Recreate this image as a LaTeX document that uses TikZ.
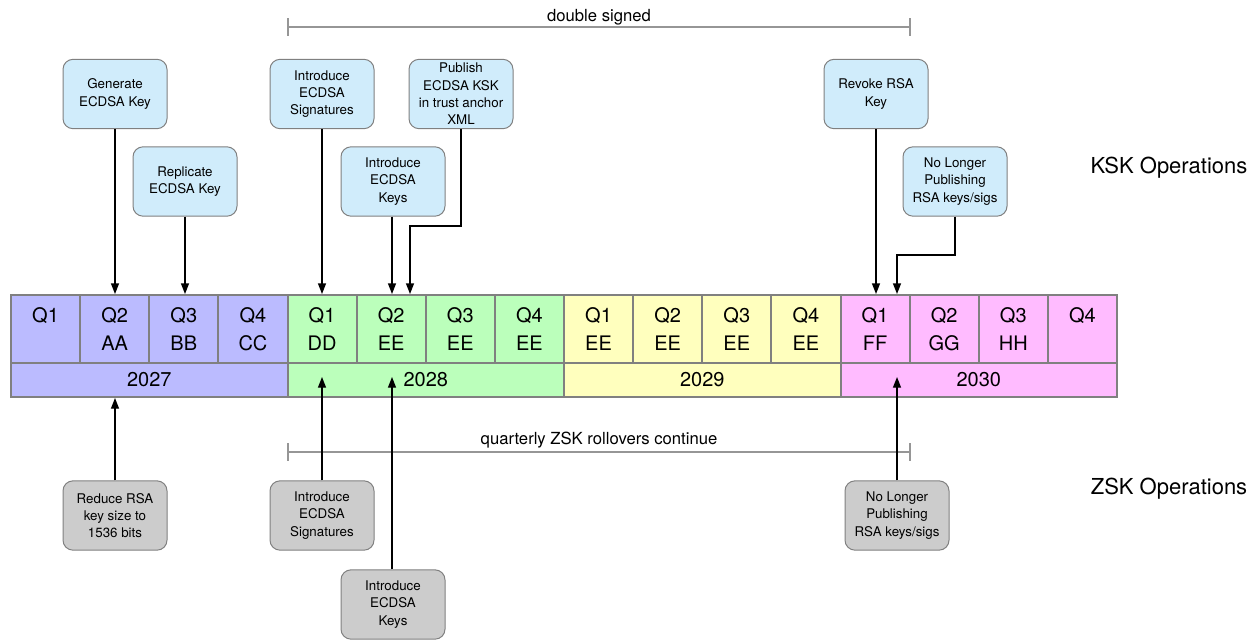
\documentclass[tikz,border=0pt]{standalone}
\usepackage{fontspec}
\setmainfont{TeX Gyre Heros}
\usetikzlibrary{arrows.meta}
\definecolor{c27}{RGB}{187,187,255}
\definecolor{c28}{RGB}{187,255,187}
\definecolor{c29}{RGB}{255,255,190}
\definecolor{c30}{RGB}{255,187,255}
\definecolor{kskfill}{RGB}{208,236,251}
\definecolor{zskfill}{RGB}{204,204,204}
\definecolor{cellline}{RGB}{128,128,128}
\definecolor{boxline}{RGB}{128,128,128}
\definecolor{spanline}{RGB}{150,150,150}
\begin{document}
\begin{tikzpicture}[x=0.75pt,y=-0.75pt,
 qcell/.style={draw=cellline,line width=1.5pt,minimum width=51.84pt,minimum height=51pt,inner sep=0},
 ycell/.style={draw=cellline,line width=1.5pt,minimum width=207.375pt,minimum height=25.5pt,inner sep=0,font=\fontsize{15}{18}\selectfont},
 qtext/.style={anchor=north,inner sep=0,align=center,font=\fontsize{15}{20.5}\selectfont},
 opbox/.style={draw=boxline,line width=0.75pt,rounded corners=7.5pt,minimum width=78pt,minimum height=52pt,inner sep=1pt,align=center,font=\fontsize{10}{13}\selectfont},
 kskbox/.style={opbox,fill=kskfill},
 zskbox/.style={opbox,fill=zskfill},
 arr/.style={draw=black,line width=1pt,-{Triangle[length=8pt,width=6pt]}},
 span/.style={draw=spanline,line width=1.5pt},
 spantext/.style={font=\fontsize{12.5}{15}\selectfont},
 optext/.style={font=\fontsize{16.5}{20}\selectfont}]
\useasboundingbox (0,0) rectangle (1260,639);

% quarter cells
\foreach \i/\col/\txt in {0/c27/{Q1},1/c27/{Q2\\AA},2/c27/{Q3\\BB},3/c27/{Q4\\CC},
  4/c28/{Q1\\DD},5/c28/{Q2\\EE},6/c28/{Q3\\EE},7/c28/{Q4\\EE},
  8/c29/{Q1\\EE},9/c29/{Q2\\EE},10/c29/{Q3\\EE},11/c29/{Q4\\EE},
  12/c30/{Q1\\FF},13/c30/{Q2\\GG},14/c30/{Q3\\HH},15/c30/{Q4}}{
  \node[qcell,fill=\col] (q\i) at ({11+69.125*(\i+0.5)},329) {};
  \node[qtext] (ql\i) at ({11+69.125*(\i+0.5)},307.5) {\txt};
}
% year cells
\node[ycell,fill=c27] (y27) at (149.25,380) {2027};
\node[ycell,fill=c28] (y28) at (425.75,380) {2028};
\node[ycell,fill=c29] (y29) at (702.25,380) {2029};
\node[ycell,fill=c30] (y30) at (978.75,380) {2030};

% span lines
\coordinate (dsl) at (288,27);
\coordinate (dsr) at (910,27);
\draw[span] (dsl) -- (dsr);
\draw[span] ([yshift=6.75pt]dsl) -- ([yshift=-6.75pt]dsl);
\draw[span] ([yshift=6.75pt]dsr) -- ([yshift=-6.75pt]dsr);
\node[spantext] (dstext) at (599,17) {double signed};

\coordinate (qzl) at (288,452);
\coordinate (qzr) at (910,452);
\draw[span] (qzl) -- (qzr);
\draw[span] ([yshift=6.4pt]qzl) -- ([yshift=-6.4pt]qzl);
\draw[span] ([yshift=6.4pt]qzr) -- ([yshift=-6.4pt]qzr);
\node[spantext] (qztext) at (599,440) {quarterly ZSK rollovers continue};

% KSK boxes
\node[kskbox] (gen) at (115,94) {Generate\\ECDSA Key};
\node[kskbox] (rep) at (185,181.5) {Replicate\\ECDSA Key};
\node[kskbox] (isig) at (322,94) {Introduce\\ECDSA\\Signatures};
\node[kskbox] (ikey) at (393,181.5) {Introduce\\ECDSA\\Keys};
\node[kskbox] (pub) at (461,94) {Publish\\ECDSA KSK\\in trust anchor\\XML};
\node[kskbox] (rev) at (876,94) {Revoke RSA\\Key};
\node[kskbox] (nlp) at (955,181.5) {No Longer\\Publishing\\RSA keys/sigs};

\coordinate (pubbend) at (410,226);
\coordinate (nlpbend) at (897,255);
\draw[arr] (gen.south) -- (gen.south |- q1.north);
\draw[arr] (rep.south) -- (rep.south |- q2.north);
\draw[arr] (isig.south) -- (isig.south |- q4.north);
\draw[arr] ([xshift=-0.75pt]ikey.south) -- ([xshift=-0.75pt]ikey.south |- q5.north);
\draw[arr] (pub.south) |- (pubbend) -- (pubbend |- q5.north);
\draw[arr] (rev.south) -- (rev.south |- q12.north);
\draw[arr] (nlp.south) |- (nlpbend) -- (nlpbend |- q12.north);

% ZSK boxes
\node[zskbox] (red) at (115,515.5) {Reduce RSA\\key size to\\1536 bits};
\node[zskbox] (isigz) at (322,515.5) {Introduce\\ECDSA\\Signatures};
\node[zskbox] (ikeyz) at (393,604.5) {Introduce\\ECDSA\\Keys};
\node[zskbox] (nlpz) at (897,515.5) {No Longer\\Publishing\\RSA keys/sigs};

\coordinate (isigztip) at (322,377);
\coordinate (ikeyztip) at (392,377);
\coordinate (nlpztip) at (897,377);
\draw[arr] (red.north) -- (red.north |- y27.south);
\draw[arr] (isigz.north) -- (isigztip);
\draw[arr] (ikeyztip |- ikeyz.north) -- (ikeyztip);
\draw[arr] (nlpz.north) -- (nlpztip);

% side labels
\node[optext] (ksk) at (1169,168) {KSK Operations};
\node[optext] (zsk) at (1169,489) {ZSK Operations};
\end{tikzpicture}
\end{document}
